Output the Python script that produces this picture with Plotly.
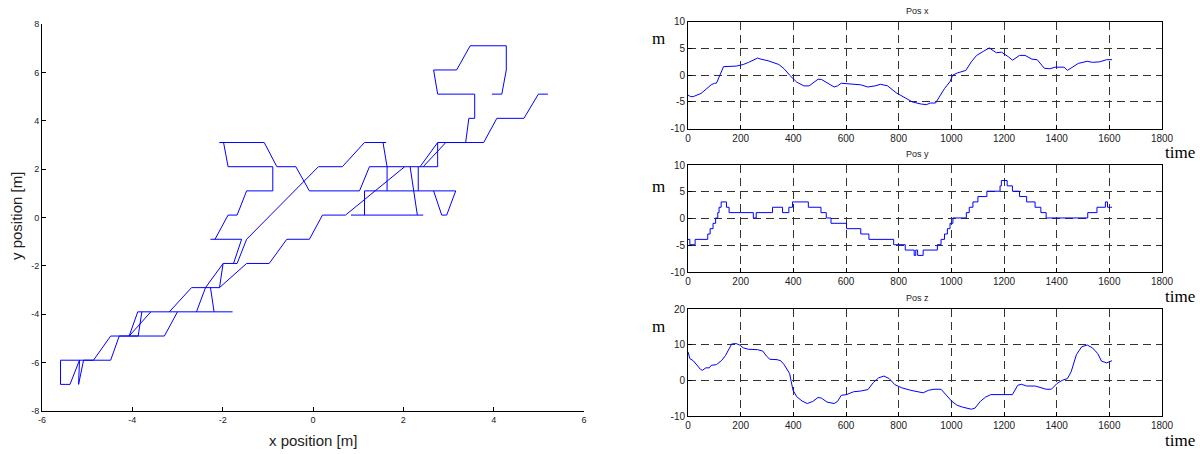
import plotly.graph_objects as go

# ---------------- data ----------------
# Left: x-y trajectory (polylines separated by None)
traj_x = [-4.48, -5.59, -5.59, -5.38, -5.17, -5.19, -5.08, -4.86, -4.48, -3.29, -3.0, None,
          -4.48, -4.29, -3.87, -3.79, None,
          -4.07, -3.88, -1.78, None,
          -4.07, -3.59, None,
          -3.18, -2.69, -2.07, -1.47, -0.97, -0.58, -0.08, 0.21, 0.72, 2.03, None,
          -2.58, -2.38, -1.99, -1.68, -1.47, 0.12, 0.65, 1.14, 1.62, None,
          -2.19, -2.27, None,
          -2.07, -1.99, None,
          -1.76, -1.58, -2.27, None,
          -2.17, -1.88, -1.68, -1.47, -0.89, -0.89, -1.88, -1.98, -2.07, -1.08, -0.8, -0.38, -0.08,
          1.03, 1.25, 2.76, 2.76, 3.78, 4.07, 4.67, 4.99, 5.2, None,
          3.96, 4.18, 4.28, 4.28, 3.48, 3.18, 2.67, 2.76, 3.58, 3.58, 3.45, 3.38, 2.94, 2.44, None,
          2.37, 2.76, None,
          1.55, 1.64, 1.64, None,
          0.84, 2.44, None,
          1.14, 1.14, 3.16, 2.96, 2.85, 2.67, None,
          2.15, 2.31, None,
          2.33, 2.33]
traj_y = [-5.9, -5.9, -6.9, -6.9, -5.9, -6.9, -5.9, -5.9, -4.9, -4.9, -3.9, None,
          -5.9, -4.9, -4.9, -3.9, None,
          -4.9, -3.9, -3.9, None,
          -4.9, -3.9, None,
          -3.9, -2.9, -2.9, -1.9, -1.9, -0.9, -0.9, 0.1, 0.1, 2.1, None,
          -3.9, -2.9, -1.9, -1.9, -0.9, 2.1, 2.1, 3.1, 3.1, None,
          -3.9, -2.9, None,
          -2.9, -1.9, None,
          -1.9, -0.9, -0.9, None,
          -0.9, 0.1, 0.1, 1.1, 1.1, 2.1, 2.1, 3.1, 3.1, 3.1, 2.1, 2.1, 1.1,
          1.1, 2.1, 2.1, 3.1, 3.1, 4.1, 4.1, 5.1, 5.1, None,
          5.1, 5.1, 6.1, 7.1, 7.1, 6.1, 6.1, 5.1, 5.1, 4.1, 4.1, 3.1, 3.1, 2.1, None,
          2.1, 3.1, None,
          3.1, 2.1, 1.1, None,
          0.1, 0.1, None,
          0.1, 1.1, 1.1, 0.1, 0.1, 1.1, None,
          2.1, 0.1, None,
          2.1, 1.1]

# Right: time series
posx_t = [0, 10, 20, 50, 88, 101, 108, 122, 135, 183, 210, 230, 264, 277, 304, 345, 365, 386,
          413, 440, 460, 494, 507, 555, 568, 582, 629, 656, 683, 710, 731, 758, 791, 825, 852,
          886, 906, 920, 940, 954, 974, 995, 1005, 1022, 1055, 1076, 1096, 1123, 1144, 1171,
          1191, 1218, 1232, 1259, 1280, 1306, 1326, 1353, 1374, 1394, 1428, 1441, 1462, 1482,
          1516, 1536, 1563, 1590, 1610]
posx_v = [-3.7, -4.0, -4.0, -3.4, -1.8, -1.5, -1.5, 0.25, 1.6, 1.7, 2.0, 2.4, 3.2, 3.0, 2.7,
          2.0, 1.2, 0.0, -1.3, -2.0, -2.0, -0.75, -0.8, -2.2, -2.0, -1.5, -1.7, -1.8, -2.2,
          -2.0, -1.7, -2.0, -3.3, -4.3, -5.0, -5.4, -5.5, -5.2, -5.2, -4.1, -2.5, -1.2, 0.0,
          0.4, 0.9, 2.5, 3.7, 4.5, 5.1, 4.2, 4.3, 3.4, 2.8, 3.7, 3.7, 3.0, 2.9, 1.3, 1.2, 1.5,
          1.5, 0.9, 1.5, 2.2, 2.6, 2.4, 2.5, 2.9, 2.9]

posy_t = [0, 7, 27, 75, 84, 95, 105, 113, 118, 126, 146, 156, 248, 259, 321, 359, 383, 397,
          457, 505, 525, 543, 602, 656, 687, 781, 825, 859, 865, 872, 893, 947, 961, 974, 985,
          995, 1006, 1057, 1068, 1082, 1101, 1135, 1185, 1190, 1212, 1232, 1259, 1286, 1318,
          1340, 1360, 1518, 1553, 1585, 1593, 1610]
posy_v = [-3.9, -4.9, -3.9, -2.9, -1.9, -0.9, 0.1, 1.1, 2.1, 3.1, 2.1, 1.1, 0.1, 1.1, 2.1,
          1.1, 2.1, 3.1, 2.1, 1.1, 0.1, -0.9, -1.9, -2.9, -3.9, -4.9, -5.9, -6.9, -5.9, -6.9,
          -5.9, -4.9, -3.9, -2.9, -1.9, -0.9, 0.1, 1.1, 2.1, 3.1, 4.1, 5.1, 6.1, 7.1, 6.1, 5.1,
          4.1, 3.1, 2.1, 1.1, 0.1, 1.1, 2.1, 3.1, 2.1, 2.1]

posz_t = [0, 7, 20, 34, 47, 54, 68, 81, 88, 108, 128, 142, 156, 166, 183, 196, 210, 230, 264,
          284, 298, 311, 338, 352, 365, 386, 392, 399, 413, 433, 453, 474, 494, 507, 528, 555,
          568, 582, 602, 629, 656, 683, 704, 724, 744, 764, 785, 812, 846, 880, 893, 913, 934,
          961, 981, 1002, 1022, 1042, 1076, 1090, 1110, 1130, 1150, 1232, 1252, 1266, 1286,
          1319, 1360, 1380, 1401, 1421, 1441, 1455, 1475, 1495, 1516, 1536, 1556, 1570, 1590,
          1610]
posz_v = [8.0, 6.1, 5.5, 4.2, 3.1, 2.8, 3.5, 3.5, 4.2, 4.4, 5.6, 6.9, 8.9, 10.2, 10.3, 9.9,
          9.1, 8.7, 8.6, 8.2, 6.8, 5.9, 5.8, 5.5, 4.4, 1.9, -0.4, -2.8, -4.6, -5.8, -6.5, -5.9,
          -4.8, -5.0, -6.1, -6.5, -5.9, -4.2, -4.0, -3.2, -3.0, -2.6, -0.6, 0.7, 1.2, 0.5, -1.2,
          -2.1, -2.8, -3.2, -3.5, -2.8, -2.5, -2.5, -4.2, -5.9, -7.0, -7.5, -8.1, -7.8, -5.9,
          -4.7, -4.0, -4.0, -1.4, -1.1, -1.6, -1.6, -2.5, -2.5, -0.9, 0.0, 0.5, 2.4, 7.2, 9.4,
          9.9, 9.1, 7.5, 5.4, 4.9, 5.5]

# tick labels
left_xticks = [-6, -4, -2, 0, 2, 4, 6]
left_yticks = [-8, -6, -4, -2, 0, 2, 4, 6, 8]
time_ticks = [0, 200, 400, 600, 800, 1000, 1200, 1400, 1600, 1800]
xy_ticks = [-10, -5, 0, 5, 10]
z_ticks = [-10, 0, 10, 20]
subplot_titles = ["Pos x", "Pos y", "Pos z"]

# ---------------- figure ----------------
W, H = 1200, 454
BLUE = "#0000ff"
NARROW = "Liberation Sans Narrow, Arial Narrow, Liberation Sans, Arial"
SERIF = "Liberation Serif, Times New Roman, serif"


def px(x):
    return x / W


def py(y):
    return 1 - y / H


def lab(v):
    return [str(t) for t in v]


def note(text, x, y, font, angle=0):
    return dict(text=text, x=px(x), y=py(y), xref="paper", yref="paper", showarrow=False,
                xanchor="center", yanchor="middle", textangle=angle, font=font)


fig = go.Figure()
fig.add_trace(go.Scatter(x=traj_x, y=traj_y, mode="lines", line=dict(color=BLUE, width=1),
                         connectgaps=False, xaxis="x", yaxis="y", showlegend=False))
fig.add_trace(go.Scatter(x=posx_t, y=posx_v, mode="lines", line=dict(color=BLUE, width=1),
                         xaxis="x2", yaxis="y2", showlegend=False))
fig.add_trace(go.Scatter(x=posy_t, y=posy_v, mode="lines", line=dict(color=BLUE, width=1, shape="hv"),
                         xaxis="x3", yaxis="y3", showlegend=False))
fig.add_trace(go.Scatter(x=posz_t, y=posz_v, mode="lines", line=dict(color=BLUE, width=1),
                         xaxis="x4", yaxis="y4", showlegend=False))

tickfont_l = dict(family=NARROW, size=9, color="#222")
tickfont_r = dict(family=NARROW, size=10, color="#222")

left_common = dict(showline=True, linecolor="black", linewidth=1, ticks="inside", ticklen=4,
                   tickcolor="black", showgrid=False, zeroline=False, tickfont=tickfont_l,
                   automargin=False)

layout = dict(
    template="none",
    width=W, height=H, autosize=False, margin=dict(l=0, r=0, t=0, b=0, pad=0, autoexpand=False),
    paper_bgcolor="white", plot_bgcolor="white", showlegend=False,
    xaxis=dict(domain=[px(42), px(584)], range=[-6, 6], tickvals=left_xticks,
               ticktext=lab(left_xticks), anchor="y", **left_common),
    yaxis=dict(domain=[py(411), py(24)], range=[-8, 8], tickvals=left_yticks,
               ticktext=lab(left_yticks), anchor="x", **left_common),
)

right_common = dict(showline=True, linecolor="black", linewidth=1, mirror=True, ticks="inside",
                    ticklen=4, tickcolor="black", showgrid=True, gridcolor="#333", gridwidth=1,
                    griddash="8px,5px", zeroline=False, tickfont=tickfont_r, automargin=False)

plots = [(21.7, 128.7, xy_ticks, [-10, 10]), (165, 272, xy_ticks, [-10, 10]),
         (309, 416, z_ticks, [-10, 20])]
m_offsets = [17, 21, 17]
annotations = [
    note("x position [m]", 313, 440, dict(family=NARROW, size=15, color="#222")),
    note("y position [m]", 17, 216, dict(family="Liberation Sans, Arial", size=15, color="#222"), -90),
]
for i, (top, bot, yt, yr) in enumerate(plots):
    n = i + 2
    layout[f"xaxis{n}"] = dict(domain=[px(688), px(1162)], range=[0, 1800], tickvals=time_ticks,
                               ticktext=lab(time_ticks), anchor=f"y{n}", **right_common)
    layout[f"yaxis{n}"] = dict(domain=[py(bot), py(top)], range=yr, tickvals=yt,
                               ticktext=lab(yt), anchor=f"x{n}", **right_common)
    annotations.append(note(subplot_titles[i], 917, top - 11,
                            dict(family="Liberation Sans, Arial", size=9, color="#222")))
    annotations.append(note("m", 658, top + m_offsets[i], dict(family=SERIF, size=17, color="black")))
    annotations.append(note("time", 1180, bot + 24, dict(family=SERIF, size=17, color="black")))

layout["annotations"] = annotations
fig.update_layout(**layout)
fig.write_html("out.html", config={"displayModeBar": False},
               post_script="document.body.style.margin='0px';document.body.style.padding='0px';")
